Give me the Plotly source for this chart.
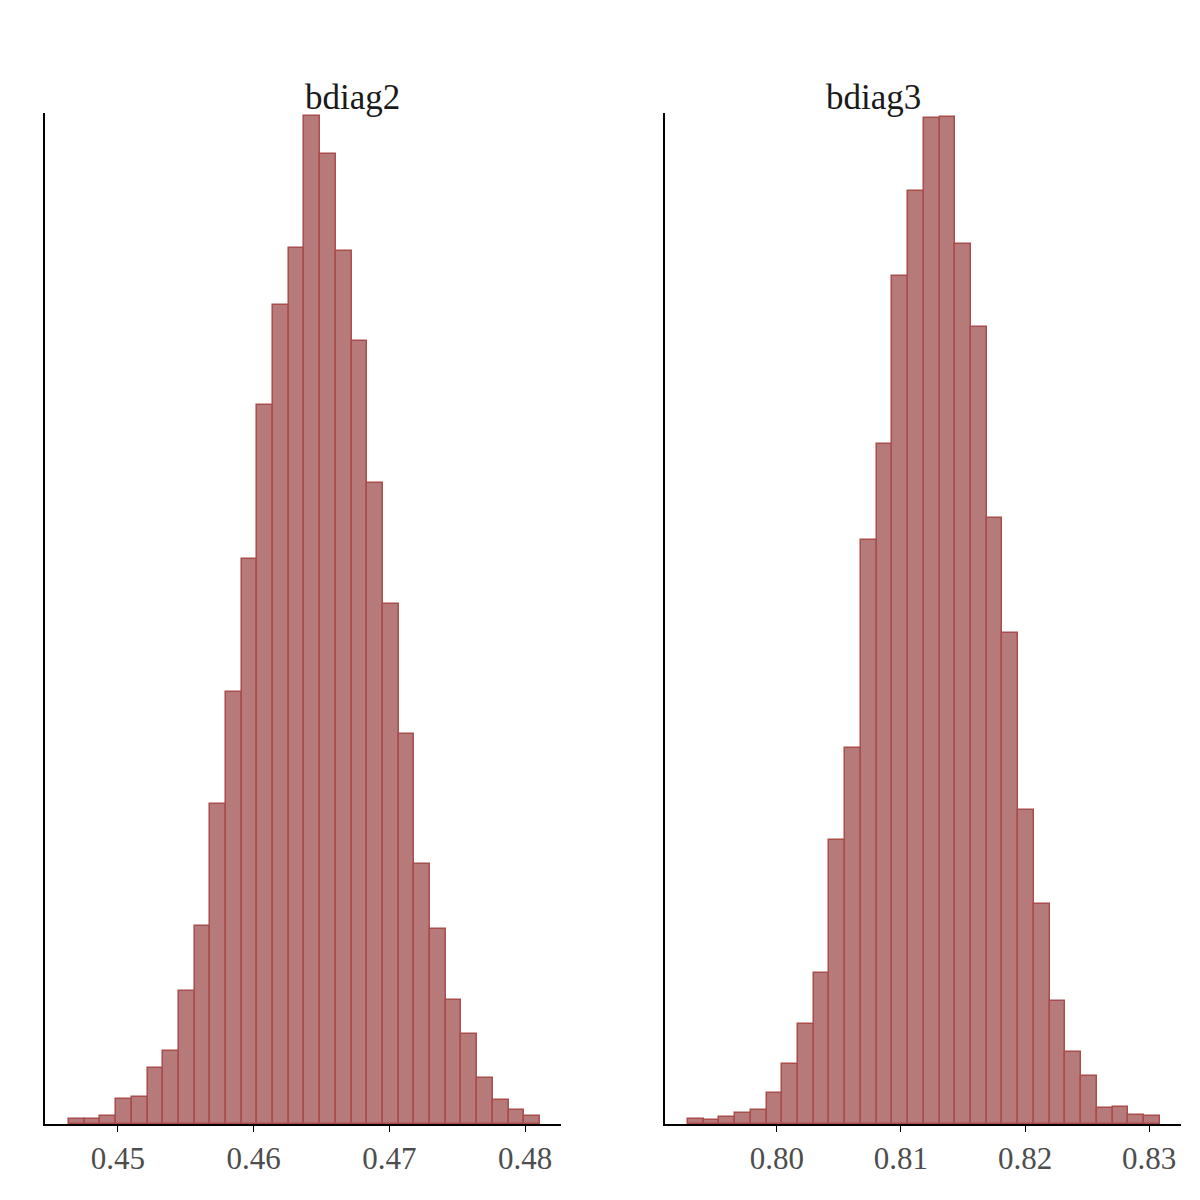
import plotly.graph_objects as go

titles = ["bdiag2", "bdiag3"]
bin_start = [0.44639, 0.79282]
bin_width = [0.001157, 0.001268]
counts_bdiag2 = [5, 5, 8, 25, 27, 56, 73, 133, 198, 320, 432, 565, 719, 819, 876,
                 1008, 970, 873, 783, 641, 520, 390, 260, 195, 124, 90, 46, 24, 14, 8]
counts_bdiag3 = [5, 4, 7, 11, 14, 31, 60, 100, 151, 284, 376, 584, 680, 848, 933,
                 1006, 1007, 880, 797, 606, 491, 314, 220, 123, 72, 48, 16, 17, 9, 8]
ticks_bdiag2 = [0.45, 0.46, 0.47, 0.48]
ticks_bdiag3 = [0.80, 0.81, 0.82, 0.83]
xranges = [[0.44462, 0.48265], [0.79097, 0.83258]]

fig = go.Figure()
all_counts = [counts_bdiag2, counts_bdiag3]
all_ticks = [ticks_bdiag2, ticks_bdiag3]
domains = [[0.0308, 0.4608], [0.5475, 0.9775]]
font = "Liberation Serif"
for i in range(2):
    c = all_counts[i]
    xs = [bin_start[i] + bin_width[i] * (k + 0.5) for k in range(len(c))]
    fig.add_trace(go.Bar(x=xs, y=c, width=bin_width[i],
                         marker=dict(color="#b67a7a", line=dict(color="#a84c4c", width=1.5)),
                         xaxis="x" if i == 0 else "x2", yaxis="y" if i == 0 else "y2",
                         showlegend=False))
    ax = "xaxis" if i == 0 else "xaxis2"
    ay = "yaxis" if i == 0 else "yaxis2"
    fig.layout[ax] = dict(domain=domains[i], range=xranges[i], anchor="y" if i == 0 else "y2",
                          tickvals=all_ticks[i], ticktext=[f"{t:.2f}" for t in all_ticks[i]],
                          showline=True, linecolor="black", linewidth=2, showgrid=False,
                          zeroline=False, ticks="outside", ticklen=6, tickcolor="black",
                          tickfont=dict(family=font, size=31, color="#4d4d4d"))
    fig.layout[ay] = dict(domain=[0.07, 0.9125], range=[0, 1011], anchor="x" if i == 0 else "x2",
                          showline=True, linecolor="black", linewidth=2, showgrid=False,
                          zeroline=False, showticklabels=False, ticks="")
    fig.add_annotation(text=titles[i], x=sum(domains[i]) / 2, y=0.943, xref="paper", yref="paper",
                       showarrow=False, font=dict(family=font, size=35, color="#1a1a1a"))

fig.update_layout(width=1200, height=1200, margin=dict(l=0, r=0, t=0, b=0),
                  plot_bgcolor="white", paper_bgcolor="white", bargap=0)
fig.write_html("out.html")
